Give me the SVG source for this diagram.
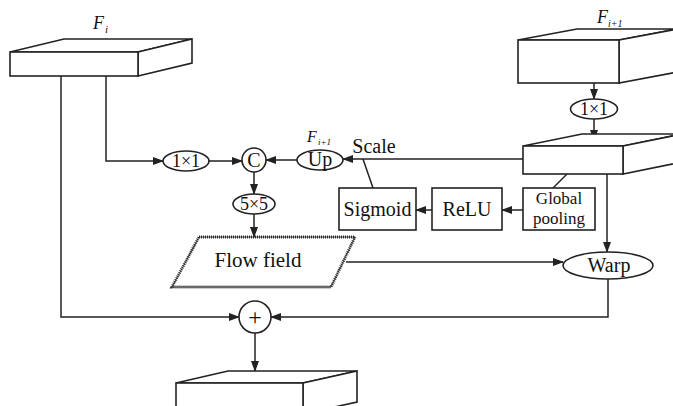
<svg xmlns="http://www.w3.org/2000/svg" width="673" height="406" viewBox="0 0 673 406">
<style>
.s{fill:#fff;stroke:#222;stroke-width:1.6;stroke-linejoin:miter}
.c{fill:none;stroke:#222;stroke-width:1.5}
.t{font-family:"Liberation Serif","Times New Roman",serif;fill:#111;text-anchor:middle;font-size:20px}
.e{font-size:18px}
.g{font-size:17px}
.it{font-family:"Liberation Serif","Times New Roman",serif;font-style:italic;fill:#111}
</style>
<defs>
<marker id="a" markerUnits="userSpaceOnUse" markerWidth="11" markerHeight="8" refX="10" refY="4" orient="auto">
<path d="M0,0 L11,4 L0,8 z" fill="#222"/>
</marker>
</defs>
<rect width="673" height="406" fill="#fff"/>
<g id="connectors">
<path class="c" d="M106,76 V161 H163" marker-end="url(#a)"/>
<path class="c" d="M209,161 H242" marker-end="url(#a)"/>
<path class="c" d="M297,160 H266" marker-end="url(#a)"/>
<path class="c" d="M523,159 H343" marker-end="url(#a)"/>
<path class="c" d="M373,188 L363,159"/>
<path class="c" d="M567,174 L553,188"/>
<path class="c" d="M523,210 H502" marker-end="url(#a)"/>
<path class="c" d="M432,210 H416" marker-end="url(#a)"/>
<path class="c" d="M607,174 V252" marker-end="url(#a)"/>
<path class="c" d="M254,172 V194" marker-end="url(#a)"/>
<path class="c" d="M254,214 V237" marker-end="url(#a)"/>
<path class="c" d="M346,262 H563" marker-end="url(#a)"/>
<path class="c" d="M608,279 V317 H271" marker-end="url(#a)"/>
<path class="c" d="M61,76 V317 H239" marker-end="url(#a)"/>
<path class="c" d="M255,333 V371" marker-end="url(#a)"/>
<path class="c" d="M594,83 V99" marker-end="url(#a)"/>
<path class="c" d="M594,119 V140" marker-end="url(#a)"/>
</g>
<g id="Fi">
<polygon class="s" points="10,52 64,39 192,39 138,52"/>
<polygon class="s" points="138,52 192,39 192,63 138,76"/>
<rect class="s" x="10" y="52" width="128" height="24"/>
<text class="it" x="93" y="29" font-size="18">F</text>
<text class="it" x="105" y="33" font-size="11">i</text>
</g>
<g id="Fi1">
<polygon class="s" points="518,40 577,29 678,29 619,40"/>
<polygon class="s" points="619,40 678,29 678,72 619,83"/>
<rect class="s" x="518" y="40" width="101" height="43"/>
<text class="it" x="597" y="23" font-size="18">F</text>
<text class="it" x="608" y="27" font-size="10">i+1</text>
</g>
<g id="conv1x1b">
<ellipse class="s" cx="594" cy="109" rx="23.5" ry="10"/>
<text class="t e" x="594" y="115">1×1</text>
</g>
<g id="box2">
<polygon class="s" points="523,146 582,134 682,134 623,146"/>
<polygon class="s" points="623,146 682,134 682,162 623,174"/>
<rect class="s" x="523" y="146" width="100" height="28"/>
</g>
<g id="up">
<ellipse class="s" cx="320" cy="160" rx="23" ry="10"/>
<text class="t" x="320" y="166">Up</text>
<text class="it" x="307" y="142" font-size="16">F</text>
<text class="it" x="318" y="145" font-size="9">i+1</text>
<text class="t" x="374" y="153">Scale</text>
</g>
<g id="C">
<circle class="s" cx="254" cy="160" r="12"/>
<text class="t" x="254" y="166.5">C</text>
</g>
<g id="conv1x1a">
<ellipse class="s" cx="186" cy="161" rx="23" ry="10"/>
<text class="t e" x="186" y="167">1×1</text>
</g>
<g id="conv5x5">
<ellipse class="s" cx="254" cy="204" rx="21" ry="10"/>
<text class="t e" x="254" y="210">5×5</text>
</g>
<g id="sigmoid">
<rect class="s" x="339" y="188" width="77" height="42"/>
<text class="t" x="377.5" y="216">Sigmoid</text>
</g>
<g id="relu">
<rect class="s" x="432" y="188" width="70" height="42"/>
<text class="t" x="467" y="216">ReLU</text>
</g>
<g id="gpool">
<rect class="s" x="523" y="188" width="72" height="42"/>
<text class="t g" x="559" y="204">Global</text>
<text class="t g" x="559" y="224">pooling</text>
</g>
<g id="flow">
<polygon points="199,237 355,237 331,287 172,287" fill="#fff" stroke="#333" stroke-width="3" stroke-dasharray="1 1"/>
<polygon points="199,237 355,237 331,287 172,287" fill="none" stroke="#222" stroke-width="0.8"/>
<text class="t" x="258" y="267" style="font-size:21px">Flow field</text>
</g>
<g id="warp">
<ellipse class="s" cx="608" cy="265.5" rx="45" ry="13.5"/>
<text class="t" x="609" y="272">Warp</text>
</g>
<g id="plus">
<circle class="s" cx="255" cy="317" r="16"/>
<text class="t" x="255" y="325" style="font-size:24px">+</text>
</g>
<g id="out">
<polygon class="s" points="176,383 228,371 357,371 303,383"/>
<polygon class="s" points="303,383 357,371 357,402 303,414"/>
<rect class="s" x="176" y="383" width="127" height="30"/>
</g>
</svg>
